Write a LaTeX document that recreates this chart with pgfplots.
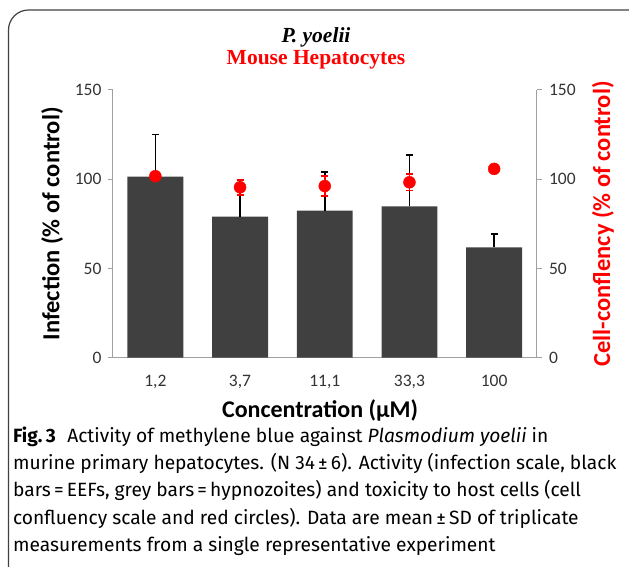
\documentclass[border=0pt]{standalone}
\usepackage{pgfplots}
\pgfplotsset{compat=1.18}
\usepackage{fontspec}
\setmainfont{Carlito}
\newfontfamily\seriffont{Liberation Serif}
\newfontfamily\capfont{Fira Sans}
\definecolor{bardark}{HTML}{404040}
\definecolor{axgray}{HTML}{A0A0A0}
\definecolor{tickcol}{HTML}{333333}
\definecolor{boxcol}{HTML}{404040}

\pgfplotstableread{
x  y      e
0  101.5  23.6
1  79.0   18.0
2  82.4   21.5
3  84.8   28.7
4  61.8   7.5
}\infection
\pgfplotstableread{
x  y      e
0  101.7  1.0
1  95.5   4.2
2  96.2   5.5
3  98.3   4.7
4  105.8  1.0
}\confluency

\begin{document}
\begin{tikzpicture}[x=1pt,y=1pt]
\begin{scope}[shift={(-113,-209.3)}]
\useasboundingbox (0,0) rectangle (629,567);
\draw[line width=1.2pt, color=boxcol] (8.5,-5) -- (8.5,537) arc[start angle=180,end angle=90,radius=20] -- (640,557);

\node[font=\seriffont\bfseries\itshape\fontsize{21.5}{24}\selectfont] at (316,530) {P. yoelii};
\node[font=\seriffont\bfseries\fontsize{21.5}{24}\selectfont, text=red] at (316,507) {Mouse Hepatocytes};

\begin{scope}[every node/.style={anchor=base west, inner sep=0pt, font=\capfont\fontsize{19.2}{27}\selectfont}]
\node at (13,124) {{\bfseries Fig.\,3}\hspace{0.6em}Activity of methylene blue against \textit{Plasmodium yoelii} in};
\node at (13,97) {murine primary hepatocytes. (N 34\,±\,6). Activity (infection scale, black};
\node at (13,70) {bars\,=\,EEFs, grey bars\,=\,hypnozoites) and toxicity to host cells (cell};
\node at (13,43) {confluency scale and red circles). Data are mean\,±\,SD of triplicate};
\node at (13,16) {measurements from a single representative experiment};
\end{scope}
\end{scope}

\begin{axis}[
  scale only axis, width=423.5pt, height=267.7pt,
  xmin=-0.5, xmax=4.5, ymin=0, ymax=150,
  axis x line=bottom, axis y line=left,
  axis line style={-, draw=axgray, line width=1pt},
  xtick={0,1,2,3,4},
  xticklabels={{1,2},{3,7},{11,1},{33,3},{100}},
  x tick style={draw=none},
  ytick={0,50,100,150},
  y tick style={draw=axgray, line width=1pt},
  tick align=outside, major tick length=5pt,
  tick label style={font=\fontsize{17.5}{20}\selectfont, text=tickcol},
  xticklabel style={yshift=-9pt},
  yticklabel style={xshift=-3pt},
  /pgf/number format/assume math mode=true,
  xlabel={Concentration (µM)},
  xlabel style={font=\fontsize{24}{28}\selectfont\bfseries, at={(axis description cs:0.489,-0.197)}, anchor=center},
  ylabel={Infection (\% of control)},
  ylabel style={font=\fontsize{24.5}{28}\selectfont\bfseries, at={(axis description cs:-0.144,0.5)}, anchor=center},
  clip=false,
]
\addplot[ybar, bar width=0.66, bar shift=0pt, fill=bardark, draw=none,
  error bars/.cd, y dir=plus, y explicit,
  error bar style={line width=1.6pt, black},
  error mark options={rotate=90, line width=1.6pt, mark size=3.5pt, black}]
  table[x=x, y=y, y error=e] {\infection};
\addplot[only marks, mark=*, mark size=6pt, color=red, mark options={fill=red, draw=red},
  error bars/.cd, y dir=both, y explicit,
  error bar style={line width=1.6pt, red},
  error mark options={rotate=90, line width=1.6pt, mark size=3.5pt, red}]
  table[x=x, y=y, y error=e] {\confluency};
\end{axis}

\begin{axis}[
  scale only axis, width=423.5pt, height=267.7pt,
  xmin=-0.5, xmax=4.5, ymin=0, ymax=150,
  axis x line=none, axis y line*=right,
  axis line style={-, draw=axgray, line width=1pt},
  ytick={0,50,100,150},
  y tick style={draw=axgray, line width=1pt},
  tick align=outside, major tick length=5pt,
  tick label style={font=\fontsize{17.5}{20}\selectfont, text=tickcol},
  yticklabel style={xshift=4pt},
  /pgf/number format/assume math mode=true,
  ylabel={Cell-conflency (\% of control)},
  ylabel style={font=\fontsize{24.5}{28}\selectfont\bfseries, text=red, at={(axis description cs:1.157,0.5)}, anchor=center},
]
\addplot[draw=none] coordinates {(0,0)};
\end{axis}
\end{tikzpicture}
\end{document}
